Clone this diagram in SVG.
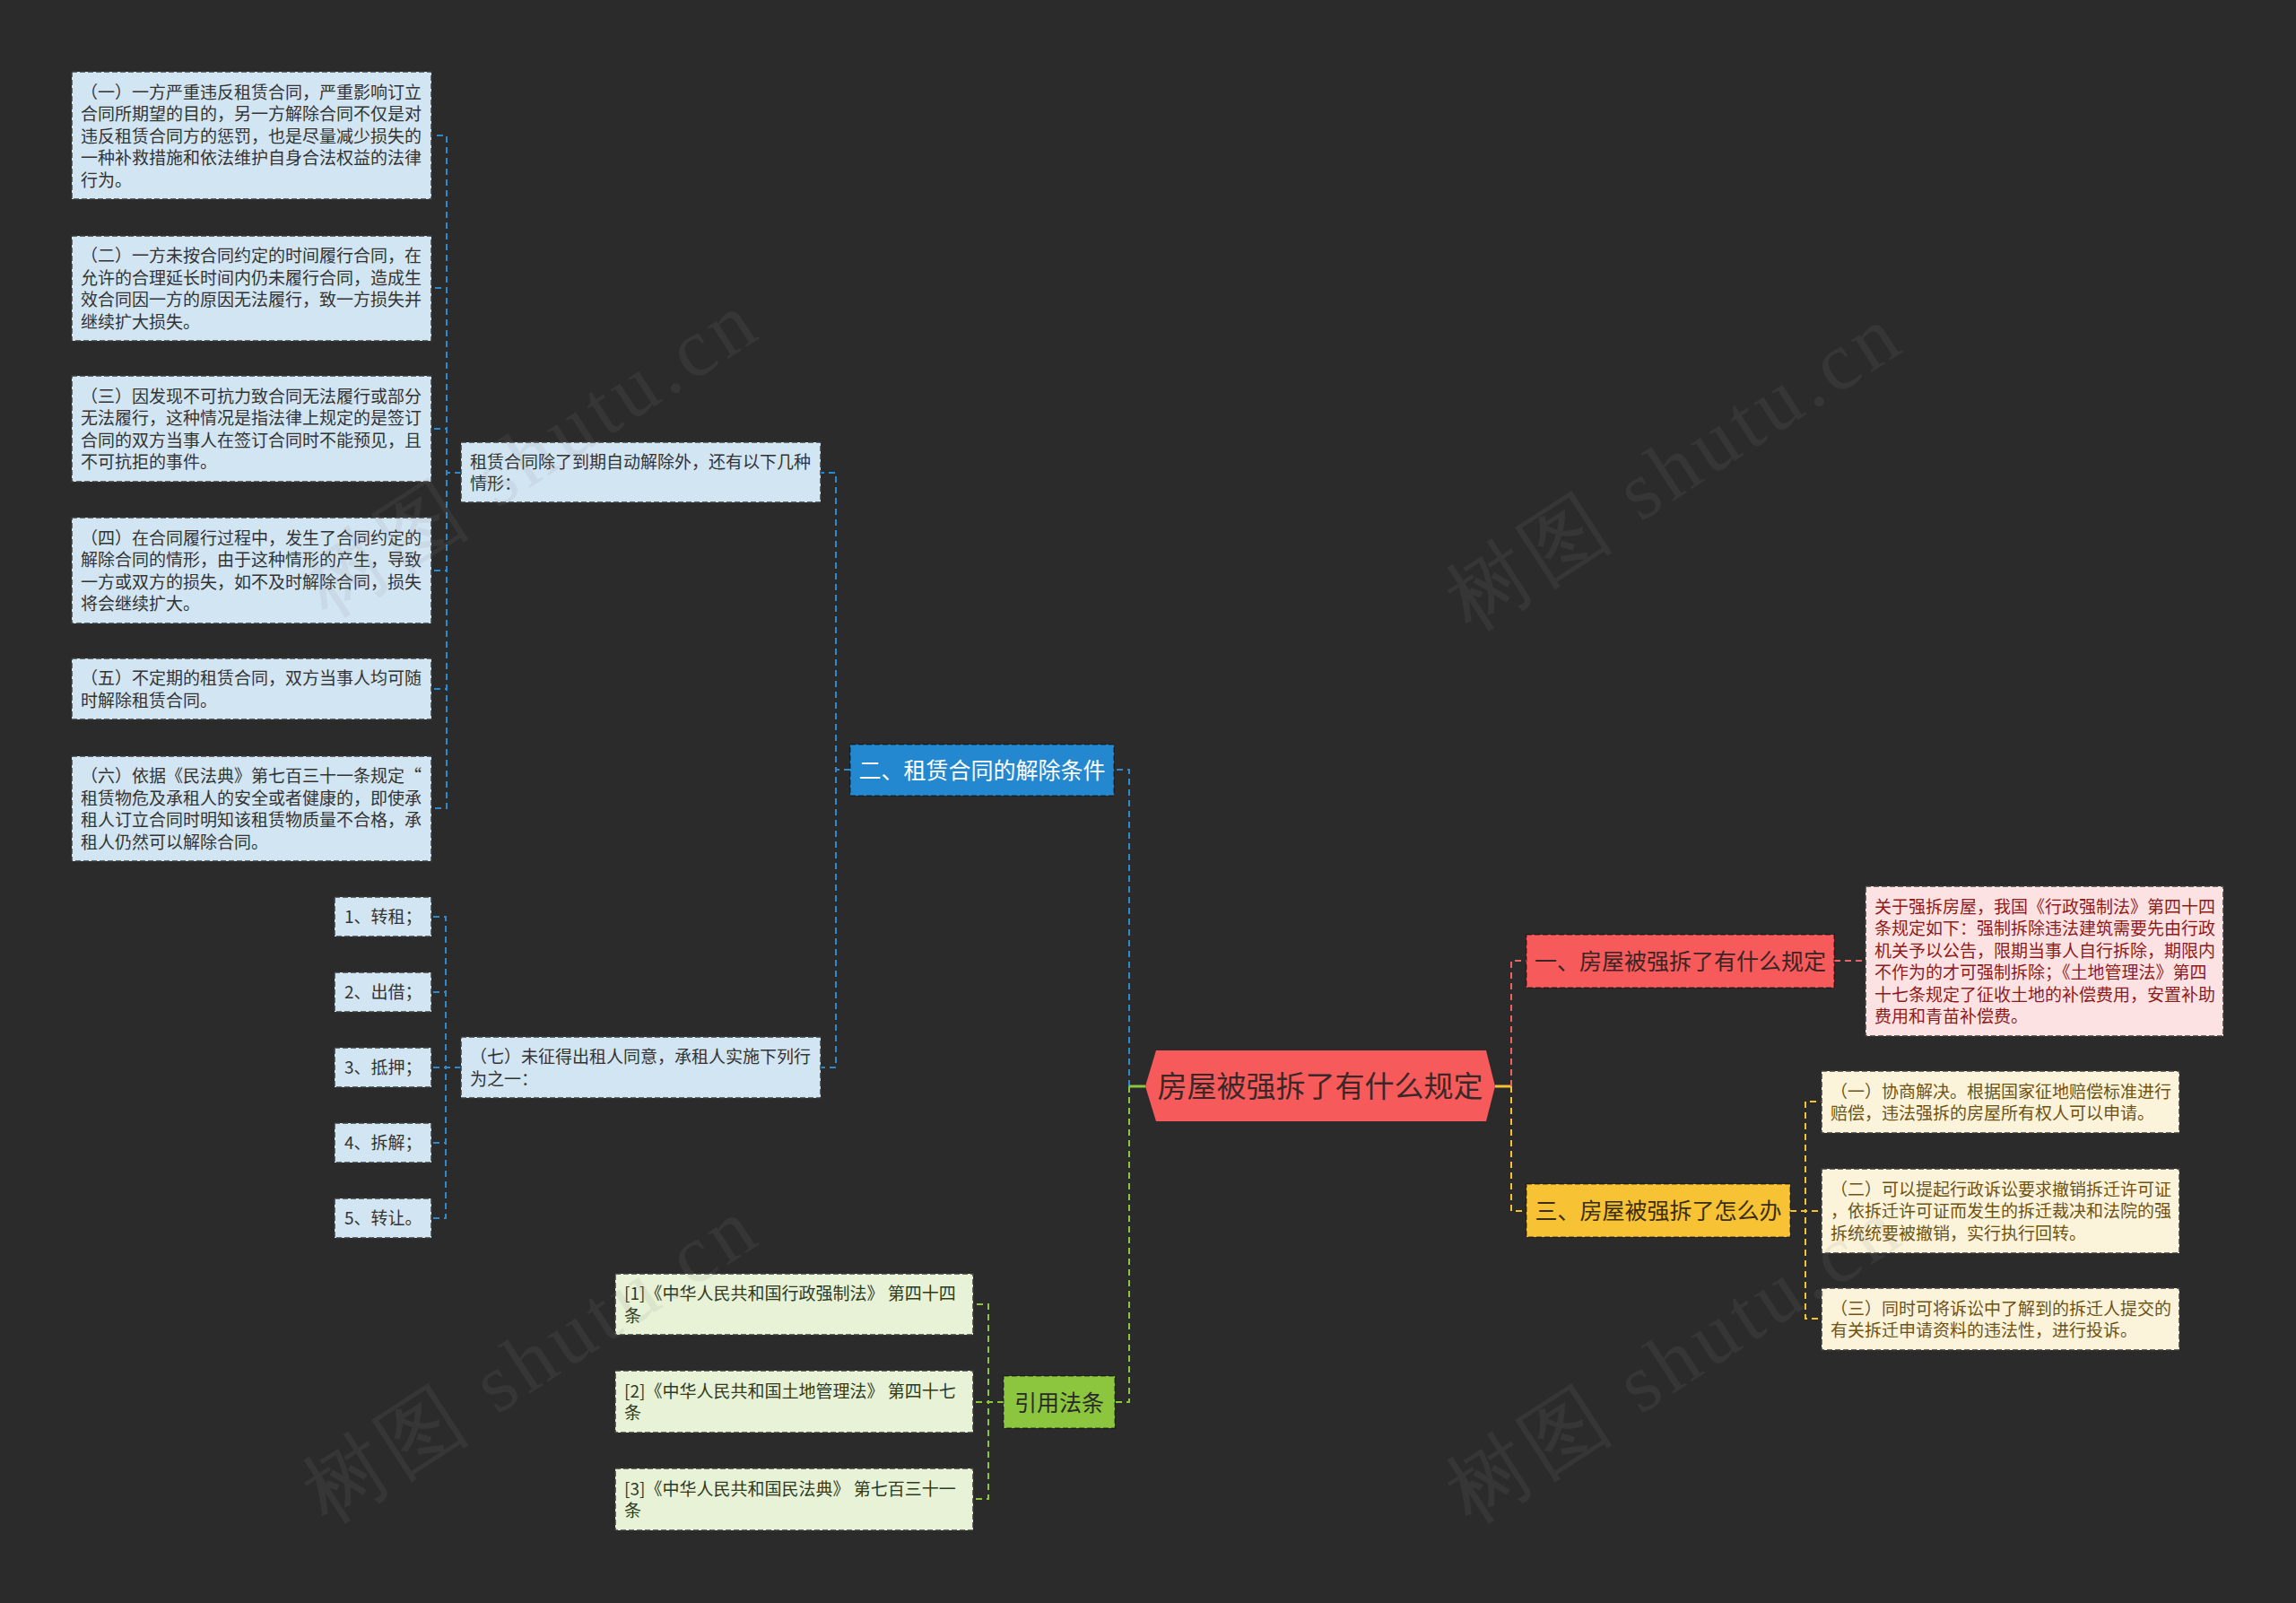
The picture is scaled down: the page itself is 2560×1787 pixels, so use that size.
<svg xmlns="http://www.w3.org/2000/svg" width="2560" height="1787" viewBox="0 0 2560 1787">
<style>
text{font-family:"Noto Sans CJK SC","Noto Sans",sans-serif;}
.t19{font-size:19px;}
.t25{font-size:25px;}
.bl{fill:#d2e5f2;stroke:#3c3c3c;stroke-width:1.5;stroke-dasharray:6 3;}
.blt{fill:#333333;}
.gr{fill:#e7f2d6;stroke:#3c3c3c;stroke-width:1.5;stroke-dasharray:6 3;}
.grt{fill:#2f3a22;}
.rd{fill:#fde2e3;stroke:#3c3c3c;stroke-width:1.5;stroke-dasharray:6 3;}
.rdt{fill:#8e1b1b;}
.yl{fill:#fcf4da;stroke:#3c3c3c;stroke-width:1.5;stroke-dasharray:6 3;}
.ylt{fill:#6e5314;}
.main{stroke:rgba(0,0,0,0.45);stroke-width:1.5;stroke-dasharray:6 3;}
.c{fill:none;stroke-width:2;stroke-dasharray:7 5;}
.cb{stroke:#2a8bd0;}
.cg{stroke:#8cc63e;}
.cr{stroke:#f06262;}
.cy{stroke:#f5c232;}
.wm{font-family:"Liberation Serif",serif;font-size:92px;fill:#8a8a8a;opacity:0.12;letter-spacing:6px;}
</style>
<rect x="0" y="0" width="2560" height="1787" fill="#2b2b2b"/>

<g id="connectors">
  <path class="c cb" d="M1259 1211 V858 H1242"/>
  <path class="c cb" d="M948 858 H932 V527 H915"/>
  <path class="c cb" d="M948 858 H932 V1190 H915"/>
  <path class="c cb" d="M514 527 H498 V151 H481"/>
  <path class="c cb" d="M514 527 H498 V321 H481"/>
  <path class="c cb" d="M514 527 H498 V478 H481"/>
  <path class="c cb" d="M514 527 H498 V636 H481"/>
  <path class="c cb" d="M514 527 H498 V768 H481"/>
  <path class="c cb" d="M514 527 H498 V901 H481"/>
  <path class="c cb" d="M514 1190 H497 V1022 H481"/>
  <path class="c cb" d="M514 1190 H497 V1106 H481"/>
  <path class="c cb" d="M514 1190 H497 V1190 H481"/>
  <path class="c cb" d="M514 1190 H497 V1274 H481"/>
  <path class="c cb" d="M514 1190 H497 V1358 H481"/>
  <path fill="none" stroke="#8cc63e" stroke-width="3" d="M1277 1211 H1259"/>
  <path class="c cg" d="M1259 1211 V1563 H1243"/>
  <path class="c cg" d="M1119 1563 H1102 V1454 H1085"/>
  <path class="c cg" d="M1119 1563 H1102 V1563 H1085"/>
  <path class="c cg" d="M1119 1563 H1102 V1671 H1085"/>
  <path fill="none" stroke="#f5c232" stroke-width="3" d="M1667 1211 H1685"/>
  <path class="c cr" d="M1685 1211 V1071 H1702"/>
  <path class="c cy" d="M1685 1211 V1350 H1702"/>
  <path class="c cr" d="M2045 1071 H2080"/>
  <path class="c cy" d="M1996 1350 H2013 V1228 H2031"/>
  <path class="c cy" d="M1996 1350 H2013 V1350 H2031"/>
  <path class="c cy" d="M1996 1350 H2013 V1470 H2031"/>
</g>

<g id="root">
  <polygon points="1277,1211 1289,1171 1657,1171 1667,1211 1657,1250 1289,1250" fill="#f65a5a"/>
  <text x="1472" y="1223" text-anchor="middle" font-size="33" fill="#3a2828">房屋被强拆了有什么规定</text>
</g>

<g id="branch-2">
  <rect x="948" y="830" width="294" height="57" fill="#2388cf" class="main"/>
  <text x="1095" y="868" text-anchor="middle" class="t25" fill="#ffffff">二、租赁合同的解除条件</text>
</g>

<g id="cond-parent">
  <rect x="514" y="493" width="401" height="67" class="bl"/>
  <text class="t19 blt" x="524" y="521.5"><tspan x="524">租赁合同除了到期自动解除外，还有以下几种</tspan><tspan x="524" dy="24.5">情形：</tspan></text>
</g>

<g id="cond-1">
  <rect x="80" y="80" width="401" height="142" class="bl"/>
  <text class="t19 blt" y="109.5"><tspan x="90">（一）一方严重违反租赁合同，严重影响订立</tspan><tspan x="90" dy="24.5">合同所期望的目的，另一方解除合同不仅是对</tspan><tspan x="90" dy="24.5">违反租赁合同方的惩罚，也是尽量减少损失的</tspan><tspan x="90" dy="24.5">一种补救措施和依法维护自身合法权益的法律</tspan><tspan x="90" dy="24.5">行为。</tspan></text>
</g>

<g id="cond-2">
  <rect x="80" y="263" width="401" height="117" class="bl"/>
  <text class="t19 blt" y="292"><tspan x="90">（二）一方未按合同约定的时间履行合同，在</tspan><tspan x="90" dy="24.5">允许的合理延长时间内仍未履行合同，造成生</tspan><tspan x="90" dy="24.5">效合同因一方的原因无法履行，致一方损失并</tspan><tspan x="90" dy="24.5">继续扩大损失。</tspan></text>
</g>

<g id="cond-3">
  <rect x="80" y="419" width="401" height="118" class="bl"/>
  <text class="t19 blt" y="448.5"><tspan x="90">（三）因发现不可抗力致合同无法履行或部分</tspan><tspan x="90" dy="24.5">无法履行，这种情况是指法律上规定的是签订</tspan><tspan x="90" dy="24.5">合同的双方当事人在签订合同时不能预见，且</tspan><tspan x="90" dy="24.5">不可抗拒的事件。</tspan></text>
</g>

<g id="cond-4">
  <rect x="80" y="577" width="401" height="118" class="bl"/>
  <text class="t19 blt" y="606.5"><tspan x="90">（四）在合同履行过程中，发生了合同约定的</tspan><tspan x="90" dy="24.5">解除合同的情形，由于这种情形的产生，导致</tspan><tspan x="90" dy="24.5">一方或双方的损失，如不及时解除合同，损失</tspan><tspan x="90" dy="24.5">将会继续扩大。</tspan></text>
</g>

<g id="cond-5">
  <rect x="80" y="734" width="401" height="68" class="bl"/>
  <text class="t19 blt" y="763"><tspan x="90">（五）不定期的租赁合同，双方当事人均可随</tspan><tspan x="90" dy="24.5">时解除租赁合同。</tspan></text>
</g>

<g id="cond-6">
  <rect x="80" y="843" width="401" height="117" class="bl"/>
  <text class="t19 blt" y="872"><tspan x="90">（六）依据《民法典》第七百三十一条规定“</tspan><tspan x="90" dy="24.5">租赁物危及承租人的安全或者健康的，即使承</tspan><tspan x="90" dy="24.5">租人订立合同时明知该租赁物质量不合格，承</tspan><tspan x="90" dy="24.5">租人仍然可以解除合同。</tspan></text>
</g>

<g id="cond-7">
  <rect x="514" y="1156" width="401" height="68" class="bl"/>
  <text class="t19 blt" y="1185"><tspan x="524">（七）未征得出租人同意，承租人实施下列行</tspan><tspan x="524" dy="24.5">为之一：</tspan></text>
</g>

<g id="item-1"><rect x="373" y="1000" width="108" height="44" class="bl"/><text class="t19 blt" x="384" y="1029">1、转租；</text></g>
<g id="item-2"><rect x="373" y="1084" width="108" height="44" class="bl"/><text class="t19 blt" x="384" y="1113">2、出借；</text></g>
<g id="item-3"><rect x="373" y="1168" width="108" height="44" class="bl"/><text class="t19 blt" x="384" y="1197">3、抵押；</text></g>
<g id="item-4"><rect x="373" y="1252" width="108" height="44" class="bl"/><text class="t19 blt" x="384" y="1281">4、拆解；</text></g>
<g id="item-5"><rect x="373" y="1336" width="108" height="44" class="bl"/><text class="t19 blt" x="384" y="1365">5、转让。</text></g>

<g id="branch-law">
  <rect x="1119" y="1534" width="124" height="58" fill="#8cc63e" class="main"/>
  <text x="1181" y="1572.5" text-anchor="middle" class="t25" fill="#2a2a2a">引用法条</text>
</g>

<g id="law-1">
  <rect x="686" y="1420" width="399" height="68" class="gr"/>
  <text class="t19 grt" y="1449"><tspan x="696">[1]《中华人民共和国行政强制法》 第四十四</tspan><tspan x="696" dy="24.5">条</tspan></text>
</g>
<g id="law-2">
  <rect x="686" y="1528" width="399" height="69" class="gr"/>
  <text class="t19 grt" y="1557.5"><tspan x="696">[2]《中华人民共和国土地管理法》 第四十七</tspan><tspan x="696" dy="24.5">条</tspan></text>
</g>
<g id="law-3">
  <rect x="686" y="1637" width="399" height="69" class="gr"/>
  <text class="t19 grt" y="1666.5"><tspan x="696">[3]《中华人民共和国民法典》 第七百三十一</tspan><tspan x="696" dy="24.5">条</tspan></text>
</g>

<g id="branch-1">
  <rect x="1702" y="1042" width="343" height="59" fill="#f65a5a" class="main"/>
  <text x="1873.5" y="1081" text-anchor="middle" class="t25" fill="#3a2424">一、房屋被强拆了有什么规定</text>
</g>

<g id="rule-1">
  <rect x="2080" y="988" width="399" height="167" class="rd"/>
  <text class="t19 rdt" y="1017.5"><tspan x="2090">关于强拆房屋，我国《行政强制法》第四十四</tspan><tspan x="2090" dy="24.5">条规定如下：强制拆除违法建筑需要先由行政</tspan><tspan x="2090" dy="24.5">机关予以公告，限期当事人自行拆除，期限内</tspan><tspan x="2090" dy="24.5">不作为的才可强制拆除；《土地管理法》第四</tspan><tspan x="2090" dy="24.5">十七条规定了征收土地的补偿费用，安置补助</tspan><tspan x="2090" dy="24.5">费用和青苗补偿费。</tspan></text>
</g>

<g id="branch-3">
  <rect x="1702" y="1320" width="294" height="59" fill="#f7c234" class="main"/>
  <text x="1849" y="1359" text-anchor="middle" class="t25" fill="#3a2e14">三、房屋被强拆了怎么办</text>
</g>

<g id="way-1">
  <rect x="2031" y="1194" width="399" height="69" class="yl"/>
  <text class="t19 ylt" y="1223.5"><tspan x="2041">（一）协商解决。根据国家征地赔偿标准进行</tspan><tspan x="2041" dy="24.5">赔偿，违法强拆的房屋所有权人可以申请。</tspan></text>
</g>
<g id="way-2">
  <rect x="2031" y="1303" width="399" height="94" class="yl"/>
  <text class="t19 ylt" y="1332.7"><tspan x="2041">（二）可以提起行政诉讼要求撤销拆迁许可证</tspan><tspan x="2041" dy="24.5">，依拆迁许可证而发生的拆迁裁决和法院的强</tspan><tspan x="2041" dy="24.5">拆统统要被撤销，实行执行回转。</tspan></text>
</g>
<g id="way-3">
  <rect x="2031" y="1436" width="399" height="69" class="yl"/>
  <text class="t19 ylt" y="1465.5"><tspan x="2041">（三）同时可将诉讼中了解到的拆迁人提交的</tspan><tspan x="2041" dy="24.5">有关拆迁申请资料的违法性，进行投诉。</tspan></text>
</g>

<g id="watermarks">
  <text class="wm" transform="translate(365,690) rotate(-33)">树图 shutu.cn</text>
  <text class="wm" transform="translate(1640,705) rotate(-33)">树图 shutu.cn</text>
  <text class="wm" transform="translate(365,1700) rotate(-33)">树图 shutu.cn</text>
  <text class="wm" transform="translate(1640,1700) rotate(-33)">树图 shutu.cn</text>
</g>
</svg>
